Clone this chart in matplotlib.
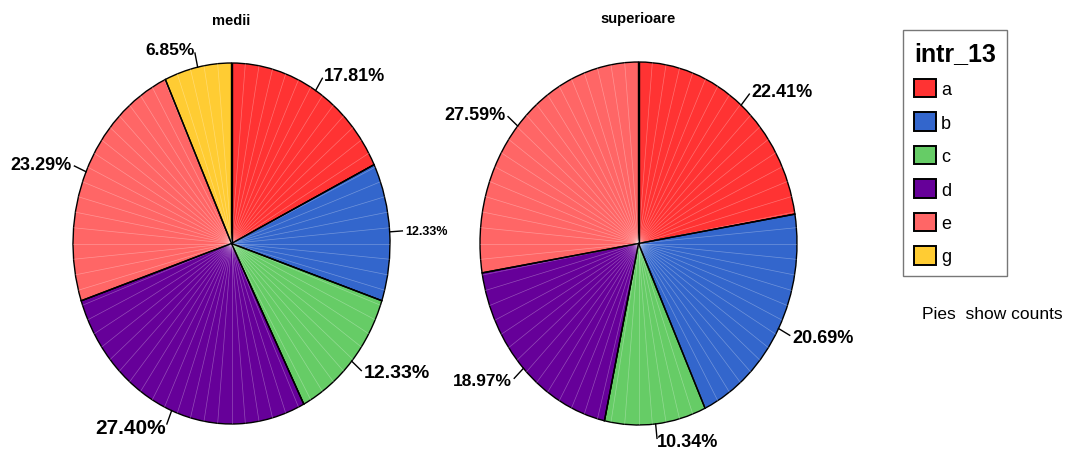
import numpy as np
import matplotlib.pyplot as plt
from matplotlib.patches import Patch

plt.rcParams["font.family"] = ["Liberation Sans", "DejaVu Sans"]

# ---- Data (counts per category, read from the percentages)
categories = ["a", "b", "c", "d", "e", "g"]
colors = ["#ff3333", "#3366cc", "#66cc66", "#660099", "#ff6666", "#ffcc33"]

panel_titles = ["medii", "superioare"]
medii_counts = [13, 9, 9, 20, 17, 5]
superioare_counts = [13, 12, 6, 11, 16, 0]
medii_labels = ["17.81%", "12.33%", "12.33%", "27.40%", "23.29%", "6.85%"]
superioare_labels = ["22.41%", "20.69%", "10.34%", "18.97%", "27.59%", ""]
# label font sizes as they appear in the original export
medii_label_sizes = [13, 9, 14, 15, 13, 12.5]
superioare_label_sizes = [13, 13, 13, 12.5, 13, 13]

W, H = 1070, 456
fig = plt.figure(figsize=(W / 100, H / 100), dpi=100)


def px_axes(x0, y0, x1, y1):
    return fig.add_axes([x0 / W, 1 - y1 / H, (x1 - x0) / W, (y1 - y0) / H])


def draw_pie(ax, counts, labels, sizes, title):
    keep = [i for i, c in enumerate(counts) if c > 0]
    vals = [counts[i] for i in keep]
    cols = [colors[i] for i in keep]
    labs = [labels[i] for i in keep]
    fs = [sizes[i] for i in keep]
    ax.pie(vals, colors=cols, startangle=90, counterclock=False, radius=1.0,
           wedgeprops=dict(edgecolor="black", linewidth=1.0))
    ax.set_aspect("auto")
    ax.set_xlim(-1, 1)
    ax.set_ylim(-1, 1)

    # faint facet lines like the SPSS polygon rendering
    for ang in np.arange(90, -270, -5.0):
        t = np.deg2rad(ang)
        ax.plot([0, np.cos(t)], [0, np.sin(t)], color="white", lw=0.5,
                alpha=0.3, zorder=3)
    # redraw slice borders on top
    total = sum(vals)
    ang = 90.0
    for v in vals:
        t = np.deg2rad(ang)
        ax.plot([0, np.cos(t)], [0, np.sin(t)], color="black", lw=1.0, zorder=4)
        ang -= 360.0 * v / total

    # labels with short leader ticks
    ang = 90.0
    for v, lab, size in zip(vals, labs, fs):
        span = 360.0 * v / total
        mid = np.deg2rad(ang - span / 2)
        ang -= span
        c, s = np.cos(mid), np.sin(mid)
        ax.plot([c, 1.08 * c], [s, 1.08 * s], color="black", lw=1.0,
                clip_on=False, zorder=4)
        ha = "left" if c >= 0 else "right"
        ax.text(1.1 * c, 1.1 * s, lab, ha=ha, va="center", fontsize=size,
                fontweight="bold", clip_on=False)
    ax.text(0, 1.24, title, ha="center", va="center", fontsize=10.5,
            fontweight="bold")


ax1 = px_axes(73, 64, 390, 425)
draw_pie(ax1, medii_counts, medii_labels, medii_label_sizes, panel_titles[0])
ax2 = px_axes(480, 63, 797, 426)
draw_pie(ax2, superioare_counts, superioare_labels, superioare_label_sizes,
         panel_titles[1])

# ---- Legend
handles = [Patch(facecolor=col, edgecolor="black", linewidth=1.4) for col in colors]
leg = fig.legend(handles, categories, title="intr_13", loc="upper left",
                 bbox_to_anchor=(903 / W, 1 - 31 / H), fontsize=13,
                 title_fontproperties=dict(size=18, weight="bold"),
                 handlelength=1.2, handleheight=1.2, handletextpad=0.3,
                 labelspacing=0.78, borderpad=0.6, fancybox=False,
                 alignment="left", borderaxespad=0)
leg.get_frame().set_edgecolor("#555555")
leg.get_frame().set_linewidth(1.0)

fig.text(992 / W, 1 - 315 / H, "Pies  show counts", ha="center", va="center",
         fontsize=12.5)

fig.savefig("out.png", dpi=100)
